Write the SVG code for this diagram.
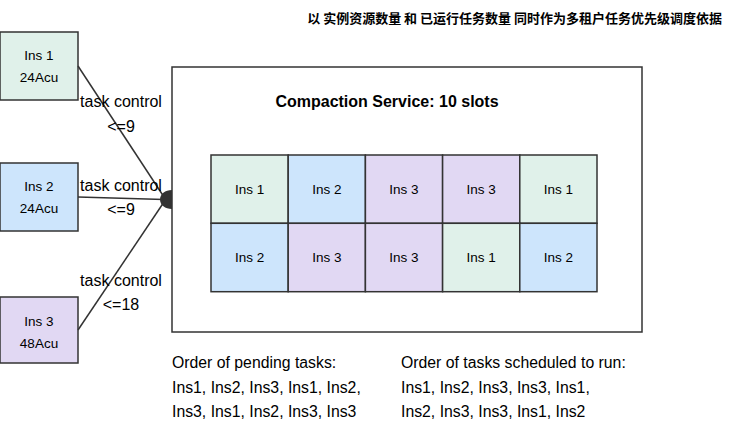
<svg xmlns="http://www.w3.org/2000/svg" width="729" height="425" viewBox="0 0 729 425">
<style>
text{font-family:"Liberation Sans",Arial,sans-serif;fill:#000}
.box{stroke:#333;stroke-width:1.5}
.g{fill:#e0f1ea}.b{fill:#cde5fc}.p{fill:#e1d8f3}
.bt{font-size:13.5px;text-anchor:middle}
.lbl{font-size:16px;text-anchor:middle}
.ft{font-size:15.8px}
.conn{stroke:#333;stroke-width:1.5;fill:none}
</style>
<rect width="729" height="425" fill="#fff"/>
<text x="722" y="23" font-size="13" font-weight="bold" text-anchor="end" style="font-family:'Noto Sans CJK SC',sans-serif">以 实例资源数量 和 已运行任务数量 同时作为多租户任务优先级调度依据</text>

<g id="service">
<rect x="172" y="67" width="470" height="265" fill="#fff" class="box"/>
<text x="387" y="107" font-size="16" font-weight="bold" text-anchor="middle">Compaction Service: 10 slots</text>
</g>

<g id="slots">
<rect class="box g" x="211" y="155" width="77.2" height="68.3"/>
<rect class="box b" x="288.2" y="155" width="77.2" height="68.3"/>
<rect class="box p" x="365.4" y="155" width="77.2" height="68.3"/>
<rect class="box p" x="442.6" y="155" width="77.2" height="68.3"/>
<rect class="box g" x="519.8" y="155" width="77.2" height="68.3"/>
<rect class="box b" x="211" y="223.3" width="77.2" height="68.4"/>
<rect class="box p" x="288.2" y="223.3" width="77.2" height="68.4"/>
<rect class="box p" x="365.4" y="223.3" width="77.2" height="68.4"/>
<rect class="box g" x="442.6" y="223.3" width="77.2" height="68.4"/>
<rect class="box b" x="519.8" y="223.3" width="77.2" height="68.4"/>
<text class="bt" x="249.6" y="194">Ins 1</text>
<text class="bt" x="326.8" y="194">Ins 2</text>
<text class="bt" x="404" y="194">Ins 3</text>
<text class="bt" x="481.2" y="194">Ins 3</text>
<text class="bt" x="558.4" y="194">Ins 1</text>
<text class="bt" x="249.6" y="262">Ins 2</text>
<text class="bt" x="326.8" y="262">Ins 3</text>
<text class="bt" x="404" y="262">Ins 3</text>
<text class="bt" x="481.2" y="262">Ins 1</text>
<text class="bt" x="558.4" y="262">Ins 2</text>
</g>

<g id="ins1">
<rect class="box g" x="0" y="32" width="78" height="68"/>
<text class="bt" x="39" y="60">Ins 1</text>
<text class="bt" x="39" y="82">24Acu</text>
</g>
<g id="ins2">
<rect class="box b" x="0" y="163" width="78" height="68"/>
<text class="bt" x="39" y="191">Ins 2</text>
<text class="bt" x="39" y="213">24Acu</text>
</g>
<g id="ins3">
<rect class="box p" x="0" y="297" width="78" height="66"/>
<text class="bt" x="39" y="325.5">Ins 3</text>
<text class="bt" x="39" y="347.5">48Acu</text>
</g>

<g id="connectors">
<line class="conn" x1="78" y1="66" x2="164" y2="197"/>
<line class="conn" x1="78" y1="197" x2="164" y2="199.5"/>
<line class="conn" x1="78" y1="330" x2="164" y2="202"/>
<path d="M172,190 C165,190 160,194 160,199.5 C160,205 165,209 172,209 Z" fill="#333"/>
<text class="lbl" x="121" y="107">task control</text>
<text class="lbl" x="121" y="131.5">&lt;=9</text>
<text class="lbl" x="121" y="190.5">task control</text>
<text class="lbl" x="121" y="214.5">&lt;=9</text>
<text class="lbl" x="121" y="285.5">task control</text>
<text class="lbl" x="121" y="310">&lt;=18</text>
</g>

<g id="notes">
<text class="ft" x="172" y="368">Order of pending tasks:</text>
<text class="ft" x="172" y="392.5">Ins1, Ins2, Ins3, Ins1, Ins2,</text>
<text class="ft" x="172" y="417">Ins3, Ins1, Ins2, Ins3, Ins3</text>
<text class="ft" x="401" y="368">Order of tasks scheduled to run:</text>
<text class="ft" x="401" y="392.5">Ins1, Ins2, Ins3, Ins3, Ins1,</text>
<text class="ft" x="401" y="417">Ins2, Ins3, Ins3, Ins1, Ins2</text>
</g>
</svg>
